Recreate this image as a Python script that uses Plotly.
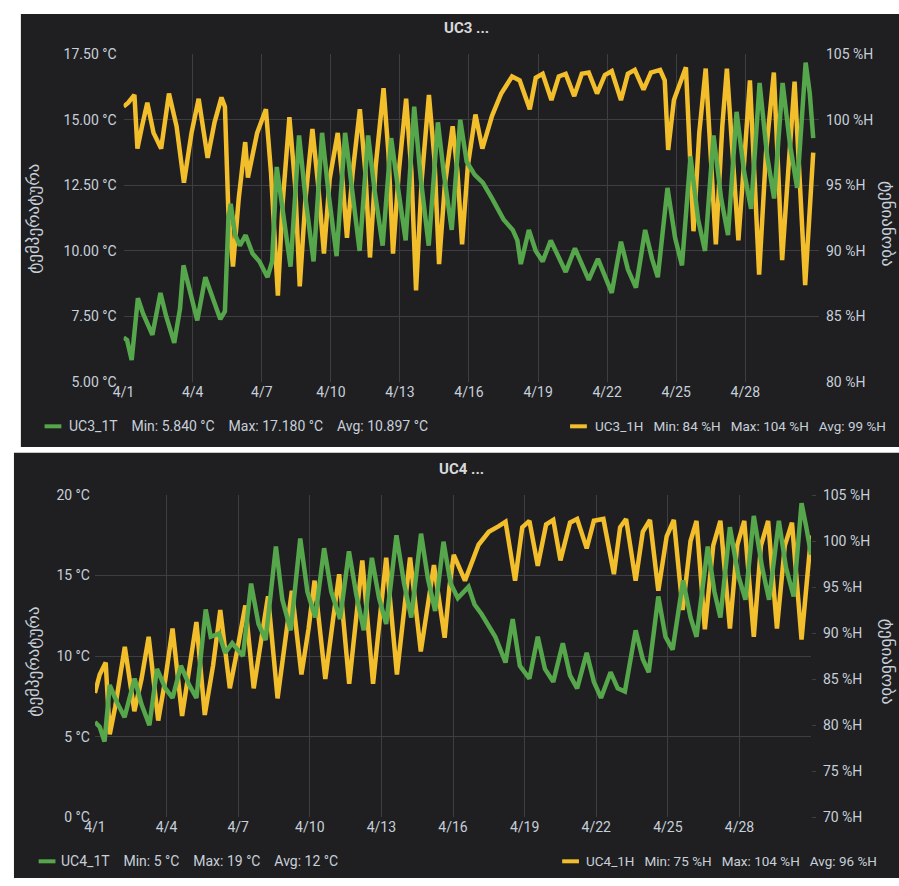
import pandas as pd
import plotly.graph_objects as go

# ---------------- data ----------------
START = "2021-04-01"
tick_days = [0, 3, 6, 9, 12, 15, 18, 21, 24, 27]
tick_labels = ["4/1", "4/4", "4/7", "4/10", "4/13", "4/16", "4/19", "4/22", "4/25", "4/28"]

uc3_t_days = [0.00, 0.15, 0.35, 0.50, 0.62, 0.85, 1.25, 1.60, 1.85, 2.20, 2.45, 2.60, 2.85, 3.20, 3.55, 3.85,
              4.20, 4.40, 4.48, 4.55, 4.65, 4.85, 5.05, 5.30, 5.60, 5.90, 6.25, 6.45, 6.65, 6.90, 7.25, 7.62,
              7.90, 8.25, 8.62, 8.90, 9.25, 9.62, 9.90, 10.25, 10.62, 10.90, 11.25, 11.62, 11.90, 12.25, 12.62,
              12.90, 13.25, 13.65, 13.90, 14.25, 14.62, 14.90, 15.25, 15.60, 16.00, 16.50, 16.90, 17.10, 17.25,
              17.60, 17.90, 18.20, 18.55, 18.90, 19.20, 19.60, 19.90, 20.20, 20.60, 20.90, 21.20, 21.60, 21.90,
              22.25, 22.65, 22.95, 23.20, 23.62, 23.95, 24.25, 24.62, 24.95, 25.25, 25.62, 25.95, 26.25, 26.62,
              26.95, 27.25, 27.62, 27.95, 28.25, 28.62, 28.95, 29.25, 29.62, 29.80, 29.95]
uc3_t_vals = [6.70, 6.60, 5.84, 7.40, 8.20, 7.60, 6.80, 8.40, 7.50, 6.50, 7.80, 9.45, 8.50, 7.35, 9.00, 8.20,
              7.40, 7.70, 9.60, 11.20, 11.80, 10.60, 10.20, 10.60, 9.90, 9.60, 9.00, 9.60, 13.20, 11.50, 9.40, 14.40,
              12.00, 9.60, 14.50, 12.20, 9.80, 14.50, 12.40, 10.00, 14.40, 12.30, 10.20, 14.30, 12.50, 10.40, 15.50,
              12.80, 10.20, 14.90, 13.00, 10.80, 15.00, 13.40, 12.90, 12.60, 12.00, 11.20, 10.80, 10.40, 9.50,
              10.80, 10.00, 9.60, 10.40, 9.80, 9.20, 10.10, 9.50, 8.90, 9.70, 9.00, 8.40, 10.35, 9.30,
              8.60, 10.80, 9.70, 9.00, 12.40, 10.50, 9.45, 13.60, 11.20, 10.00, 14.40, 12.00, 10.60, 15.30,
              13.00, 11.60, 16.40, 13.60, 12.00, 16.40, 14.00, 12.40, 17.18, 16.00, 14.30]

uc3_h_days = [0.00, 0.20, 0.47, 0.60, 0.80, 1.03, 1.30, 1.63, 1.97, 2.30, 2.62, 2.95, 3.26, 3.65, 3.95, 4.25,
              4.40, 4.55, 4.75, 5.00, 5.28, 5.40, 5.80, 6.18, 6.40, 6.70, 6.90, 7.20, 7.45, 7.65, 7.90, 8.20,
              8.45, 8.70, 8.95, 9.30, 9.50, 9.70, 9.95, 10.26, 10.50, 10.70, 10.95, 11.29, 11.50, 11.70, 11.95,
              12.27, 12.50, 12.70, 12.95, 13.26, 13.50, 13.70, 13.95, 14.29, 14.50, 14.70, 14.95, 15.28, 15.58,
              16.00, 16.40, 16.87, 17.20, 17.64, 17.90, 18.20, 18.58, 18.90, 19.20, 19.57, 19.90, 20.20, 20.56,
              20.90, 21.20, 21.60, 21.90, 22.20, 22.58, 22.90, 23.30, 23.50, 23.65, 23.90, 24.42, 24.75, 25.00,
              25.28, 25.72, 26.00, 26.20, 26.70, 27.00, 27.20, 27.60, 27.90, 28.24, 28.60, 28.90, 29.14, 29.60,
              29.95]
uc3_h_vals = [101.0, 101.3, 101.9, 97.8, 99.5, 101.3, 99.0, 97.8, 102.0, 99.5, 95.2, 99.0, 101.6, 97.1, 99.8, 101.7,
              101.0, 93.0, 88.8, 94.0, 98.3, 95.6, 99.0, 100.8, 96.0, 86.6, 93.5, 100.2, 95.0, 87.3, 94.0, 99.3,
              95.0, 89.8, 95.5, 99.0, 95.5, 91.0, 96.0, 100.8, 96.0, 89.5, 96.5, 102.4, 97.5, 89.8, 96.0,
              101.6, 96.0, 87.0, 95.5, 101.9, 97.0, 89.0, 95.0, 99.5, 96.0, 90.5, 96.5, 100.4, 97.8,
              100.3, 102.0, 103.3, 103.0, 100.8, 103.2, 103.5, 101.5, 103.3, 103.5, 101.8, 103.5, 103.6, 102.0,
              103.4, 103.7, 101.5, 103.5, 103.8, 102.3, 103.6, 103.8, 103.0, 97.7, 101.5, 104.0, 91.5, 99.0,
              103.9, 90.5, 99.5, 103.9, 90.8, 98.0, 103.0, 88.2, 97.5, 103.6, 89.3, 97.0, 102.9, 87.4,
              97.5]

uc4_t_days = [0.00, 0.20, 0.40, 0.62, 0.90, 1.24, 1.66, 1.95, 2.28, 2.60, 2.95, 3.25, 3.60, 3.95, 4.25, 4.64,
              4.85, 5.20, 5.45, 5.75, 6.20, 6.54, 6.85, 7.15, 7.58, 7.85, 8.20, 8.60, 8.90, 9.23, 9.60, 9.90,
              10.27, 10.64, 10.95, 11.26, 11.60, 11.90, 12.20, 12.63, 12.95, 13.25, 13.66, 13.95, 14.25, 14.60,
              14.90, 15.20, 15.65, 15.90, 16.20, 16.77, 17.20, 17.50, 17.80, 18.20, 18.55, 18.85, 19.20, 19.60,
              19.90, 20.20, 20.60, 20.90, 21.20, 21.60, 21.90, 22.20, 22.65, 22.95, 23.20, 23.60, 23.90, 24.20,
              24.64, 24.95, 25.20, 25.67, 25.95, 26.20, 26.60, 26.95, 27.25, 27.60, 27.95, 28.24, 28.65, 28.95,
              29.27, 29.60, 29.80, 30.00]
uc4_t_vals = [5.90, 5.60, 4.70, 8.20, 7.20, 6.20, 8.60, 7.00, 5.70, 9.20, 8.00, 7.40, 9.40, 8.20, 7.40, 12.90,
              11.20, 11.40, 10.20, 10.80, 10.00, 14.50, 12.00, 11.00, 16.80, 13.50, 11.60, 17.30, 14.00, 12.40, 16.70, 14.00,
              12.30, 16.50, 13.80, 11.60, 16.10, 13.60, 12.00, 17.50, 14.50, 12.40, 17.60, 14.80, 12.80, 17.10,
              14.50, 13.60, 14.30, 13.20, 12.60, 11.20, 9.60, 12.30, 9.40, 8.60, 11.20, 9.20, 8.40, 10.80,
              8.80, 8.00, 10.20, 8.40, 7.40, 9.00, 8.00, 7.80, 11.60, 9.80, 9.00, 13.70, 11.20, 10.40,
              14.70, 12.40, 11.20, 16.80, 14.00, 12.40, 18.00, 15.00, 13.50, 18.70, 15.50, 13.50, 18.40, 15.50,
              13.70, 19.50, 18.00, 16.30]

uc4_h_days = [0.00, 0.20, 0.45, 0.62, 0.85, 1.25, 1.65, 1.95, 2.25, 2.65, 2.95, 3.25, 3.65, 3.95, 4.25, 4.60,
              4.95, 5.25, 5.65, 5.95, 6.30, 6.65, 6.95, 7.25, 7.65, 7.95, 8.25, 8.65, 8.95, 9.20, 9.65, 9.95,
              10.23, 10.65, 10.95, 11.20, 11.65, 11.95, 12.20, 12.65, 12.95, 13.20, 13.65, 13.95, 14.20, 14.65,
              14.85, 15.03, 15.50, 16.07, 16.50, 16.90, 17.20, 17.60, 17.90, 18.20, 18.55, 18.90, 19.20, 19.50,
              19.90, 20.20, 20.60, 20.90, 21.30, 21.74, 22.00, 22.25, 22.65, 22.95, 23.25, 23.60, 23.95, 24.25,
              24.62, 24.95, 25.20, 25.55, 25.90, 26.20, 26.60, 26.90, 27.20, 27.60, 27.90, 28.20, 28.57, 28.90,
              29.20, 29.60, 29.85, 30.00]
uc4_h_vals = [83.5, 85.5, 86.8, 79.0, 82.0, 88.5, 81.5, 85.0, 89.6, 80.5, 85.0, 90.5, 81.0, 86.0, 91.2, 81.1,
              86.5, 92.5, 84.0, 88.0, 93.0, 84.0, 89.0, 94.0, 82.9, 89.0, 94.6, 85.5, 90.5, 95.7, 85.0, 91.0,
              96.4, 84.5, 91.5, 97.9, 84.5, 92.0, 98.2, 85.5, 93.0, 98.2, 88.0, 93.5, 97.4, 89.5,
              95.0, 98.5, 95.7, 99.6, 101.0, 101.6, 102.1, 95.7, 101.5, 102.2, 97.3, 101.8, 102.3, 97.9,
              102.0, 102.4, 99.2, 102.2, 102.4, 96.4, 101.5, 102.4, 95.7, 101.0, 102.3, 94.6, 100.5, 102.3,
              92.5, 100.0, 102.2, 90.4, 99.5, 102.2, 90.5, 99.5, 102.2, 89.6, 99.5, 102.2, 90.5, 99.5,
              102.0, 89.3, 96.0, 100.6]

SP4 = "\u00a0" * 4
SP3 = "\u00a0" * 3
uc3_t_legend = f"UC3_1T{SP4}Min: 5.840 °C{SP4}Max: 17.180 °C{SP4}Avg: 10.897 °C"
uc3_h_legend = f"UC3_1H{SP3}Min: 84 %H{SP3}Max: 104 %H{SP3}Avg: 99 %H"
uc4_t_legend = f"UC4_1T{SP4}Min: 5 °C{SP4}Max: 19 °C{SP4}Avg: 12 °C"
uc4_h_legend = f"UC4_1H{SP3}Min: 75 %H{SP3}Max: 104 %H{SP3}Avg: 96 %H"

# ---------------- styling ----------------
W, H = 899, 886
PANEL = "#1f1f22"
GRID = "#3e3e42"
TXT = "#c7d0d9"
GREEN = "#56A64B"
YELLOW = "#F2BE2C"
FONT = "Roboto, Open Sans, sans-serif"
LW = 4.5

start = pd.Timestamp(START)


def dates(days):
    return [start + pd.Timedelta(days=d) for d in days]


def px(x):
    return x / W


def py(y):
    return 1 - y / H


fig = go.Figure()
fig.add_trace(go.Scatter(x=dates(uc3_h_days), y=uc3_h_vals, xaxis="x", yaxis="y", mode="lines",
                         line=dict(color=YELLOW, width=LW), name="UC3_1H"))
fig.add_trace(go.Scatter(x=dates(uc3_t_days), y=uc3_t_vals, xaxis="x", yaxis="y2", mode="lines",
                         line=dict(color=GREEN, width=LW), name="UC3_1T"))
fig.add_trace(go.Scatter(x=dates(uc4_h_days), y=uc4_h_vals, xaxis="x2", yaxis="y3", mode="lines",
                         line=dict(color=YELLOW, width=LW), name="UC4_1H"))
fig.add_trace(go.Scatter(x=dates(uc4_t_days), y=uc4_t_vals, xaxis="x2", yaxis="y4", mode="lines",
                         line=dict(color=GREEN, width=LW), name="UC4_1T"))

tickvals = dates(tick_days)
xcommon = dict(type="date", tickvals=tickvals, ticktext=tick_labels, showgrid=True, gridcolor=GRID,
               gridwidth=1, zeroline=False, showline=False, ticks="",
               tickfont=dict(family=FONT, size=14, color=TXT))
ycommon = dict(zeroline=False, showline=False, tickfont=dict(family=FONT, size=14, color=TXT))

fig.update_layout(
    width=W, height=H,
    margin=dict(l=0, r=0, t=0, b=0),
    paper_bgcolor="white",
    plot_bgcolor=PANEL,
    showlegend=False,
    xaxis=dict(domain=[px(114), px(818)], anchor="y",
               range=[start, start + pd.Timedelta(days=30.2)], **xcommon),
    yaxis=dict(domain=[py(381), py(47)], anchor="x", side="right", range=[80, 105], dtick=5,
               ticksuffix=" %H", showgrid=False, ticks="", ticklabelstandoff=6, **ycommon),
    yaxis2=dict(overlaying="y", anchor="x", side="left", range=[5, 17.5], dtick=2.5, tickformat=".2f",
                ticksuffix=" °C", showgrid=True, gridcolor=GRID, ticks="", ticklabelstandoff=6, **ycommon),
    xaxis2=dict(domain=[px(85), px(810)], anchor="y3",
                range=[start, start + pd.Timedelta(days=30.0)], **xcommon),
    yaxis3=dict(domain=[py(824), py(496)], anchor="x2", side="right", range=[70, 105], dtick=5,
                ticksuffix=" %H", showgrid=False, ticks="outside", ticklen=4, tickcolor=GRID,
                ticklabelstandoff=4, **ycommon),
    yaxis4=dict(overlaying="y3", anchor="x2", side="left", range=[0, 20], dtick=5,
                ticksuffix=" °C", showgrid=True, gridcolor=GRID, ticks="", ticklabelstandoff=4, **ycommon),
)

shapes = [
    dict(type="rect", xref="paper", yref="paper", x0=px(10), x1=px(899), y0=py(447), y1=py(6),
         fillcolor=PANEL, line=dict(width=0), layer="below"),
    dict(type="rect", xref="paper", yref="paper", x0=px(3), x1=px(899), y0=py(886), y1=py(453),
         fillcolor=PANEL, line=dict(width=0), layer="below"),
]


def legend_mark(x0, x1, y, color):
    return dict(type="line", xref="paper", yref="paper", x0=px(x0), x1=px(x1), y0=py(y), y1=py(y),
                line=dict(color=color, width=4))


shapes += [legend_mark(34, 51, 426, GREEN), legend_mark(566, 583, 426, YELLOW),
           legend_mark(28, 45, 869, GREEN), legend_mark(558, 575, 869, YELLOW)]
fig.update_layout(shapes=shapes)


def ann(text, x, y, size=14, color=TXT, xanchor="left", angle=0, family=FONT):
    return dict(text=text, xref="paper", yref="paper", x=px(x), y=py(y), xanchor=xanchor, yanchor="middle",
                showarrow=False, textangle=angle, font=dict(family=family, size=size, color=color))


annotations = [
    ann("<b>UC3 ...</b>", 461, 20, size=15, color="#d8d9da", xanchor="center"),
    ann("<b>UC4 ...</b>", 456, 469, size=15, color="#d8d9da", xanchor="center"),
    ann(uc3_t_legend, 57, 426),
    ann(uc3_h_legend, 589, 426, size=13.5),
    ann(uc4_t_legend, 49, 869),
    ann(uc4_h_legend, 580, 869, size=13.5),
    ann("ტემპერატურა", 22, 215, size=17, xanchor="center", angle=-90, family="DejaVu Sans"),
    ann("ტემპერატურა", 22, 666, size=17, xanchor="center", angle=-90, family="DejaVu Sans"),
    ann("ტენიანობა", 888, 220, size=17, xanchor="center", angle=90, family="DejaVu Sans"),
    ann("ტენიანობა", 888, 666, size=17, xanchor="center", angle=90, family="DejaVu Sans"),
]
fig.update_layout(annotations=annotations)

fig.write_html("out.html", config={"displayModeBar": False},
               post_script="document.body.style.margin='0';")
